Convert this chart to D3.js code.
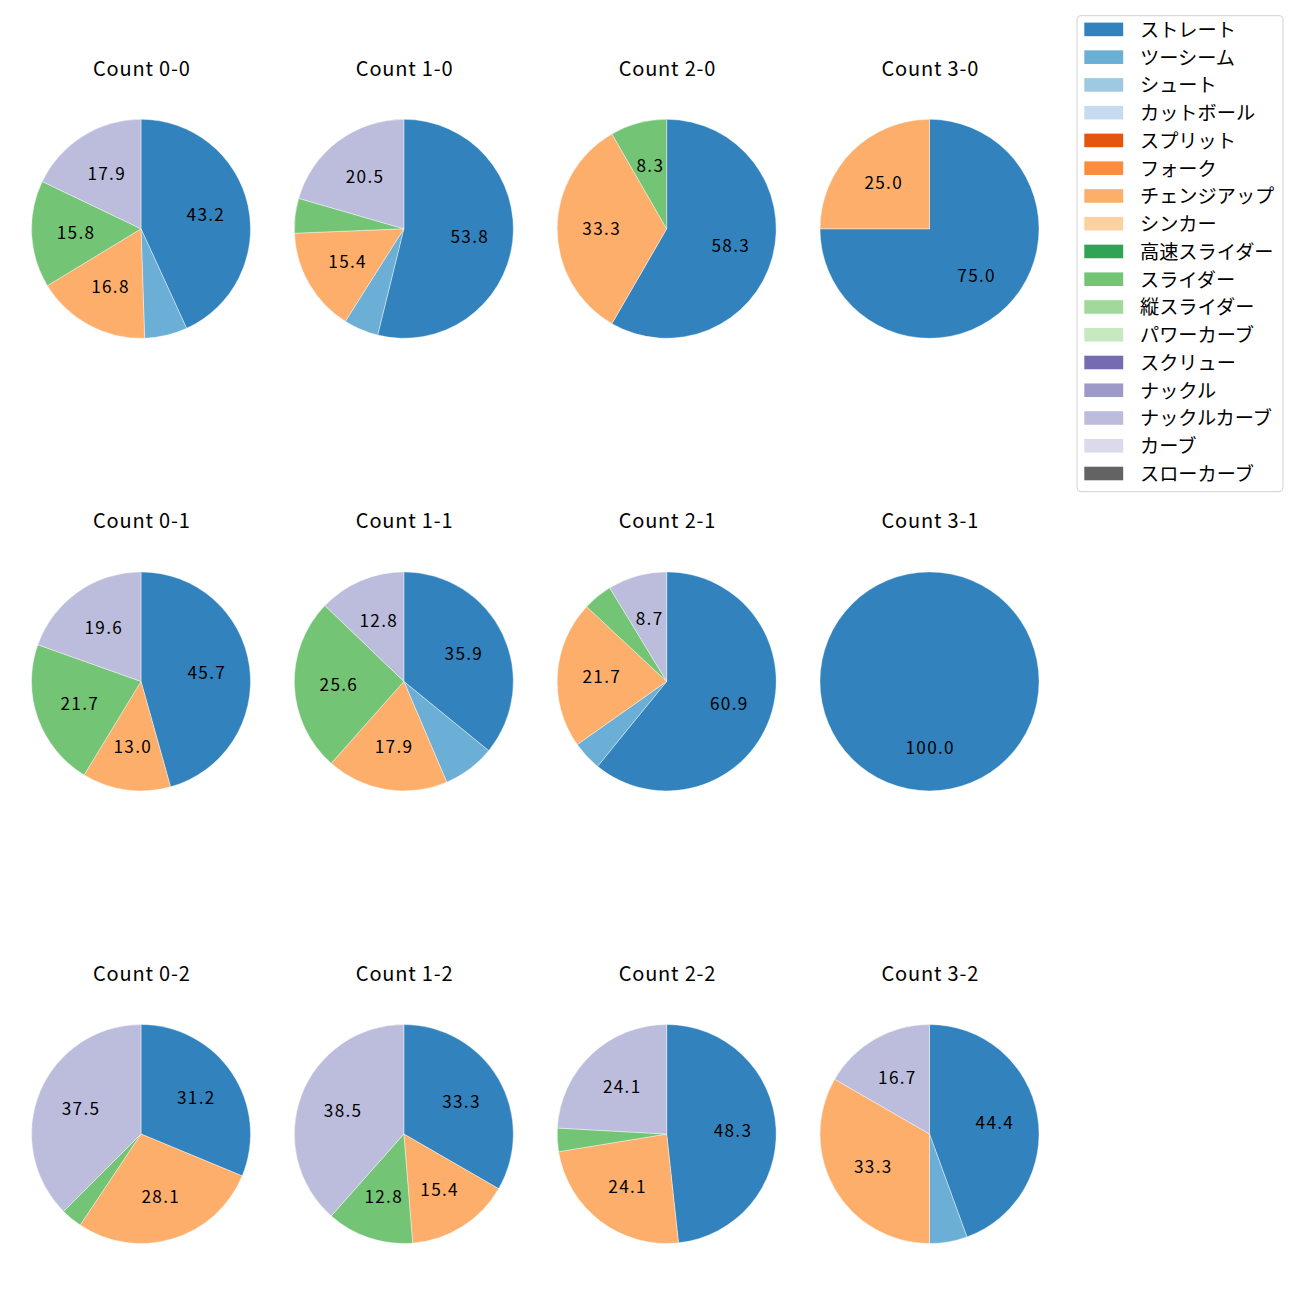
<!DOCTYPE html>
<html>
<head>
<meta charset="utf-8">
<script src="https://cdn.jsdelivr.net/npm/d3@7"></script>
<style>
  html, body { margin: 0; padding: 0; background: #fff; }
  svg { display: block; font-family: "Noto Sans CJK JP", "Noto Sans", sans-serif; }
</style>
</head>
<body>
<svg id="chart" width="1300" height="1300"></svg>
<script>
// ---- data ----
const pitchTypes = ["ストレート","ツーシーム","シュート","カットボール","スプリット","フォーク","チェンジアップ","シンカー","高速スライダー","スライダー","縦スライダー","パワーカーブ","スクリュー","ナックル","ナックルカーブ","カーブ","スローカーブ"];
const pitchColors = ["#3182bd","#6baed6","#9ecae1","#c6dbef","#e6550d","#fd8d3c","#fdae6b","#fdd0a2","#31a354","#74c476","#a1d99b","#c7e9c0","#756bb1","#9e9ac8","#bcbddc","#dadaeb","#636363"];
const countTitles = ["Count 0-0","Count 1-0","Count 2-0","Count 3-0","Count 0-1","Count 1-1","Count 2-1","Count 3-1","Count 0-2","Count 1-2","Count 2-2","Count 3-2"];
// pitch counts per pitch type (same order as pitchTypes)
const count00 = [41,6,0,0,0,0,16,0,0,15,0,0,0,0,17,0,0];
const count10 = [21,2,0,0,0,0,6,0,0,2,0,0,0,0,8,0,0];
const count20 = [7,0,0,0,0,0,4,0,0,1,0,0,0,0,0,0,0];
const count30 = [3,0,0,0,0,0,1,0,0,0,0,0,0,0,0,0,0];
const count01 = [21,0,0,0,0,0,6,0,0,10,0,0,0,0,9,0,0];
const count11 = [14,3,0,0,0,0,7,0,0,10,0,0,0,0,5,0,0];
const count21 = [14,1,0,0,0,0,5,0,0,1,0,0,0,0,2,0,0];
const count31 = [4,0,0,0,0,0,0,0,0,0,0,0,0,0,0,0,0];
const count02 = [10,0,0,0,0,0,9,0,0,1,0,0,0,0,12,0,0];
const count12 = [13,0,0,0,0,0,6,0,0,5,0,0,0,0,15,0,0];
const count22 = [14,0,0,0,0,0,7,0,0,1,0,0,0,0,7,0,0];
const count32 = [8,1,0,0,0,0,6,0,0,0,0,0,0,0,3,0,0];
const countValues = [count00,count10,count20,count30,count01,count11,count21,count31,count02,count12,count22,count32];

// round-half-even formatting to one decimal (like Python's %1.1f)
function fmt1(x) {
  const s = x * 10;
  const f = Math.floor(s);
  let r;
  if (Math.abs(s - f - 0.5) < 1e-9) r = (f % 2 === 0) ? f : f + 1;
  else r = Math.round(s);
  return (r / 10).toFixed(1);
}

// ---- layout ----
const svg = d3.select("#chart");
const color = d3.scaleOrdinal().domain(pitchTypes).range(pitchColors);
const colX = d3.scaleLinear().domain([0, 3]).range([141, 929.5]);
const rowY = d3.scaleLinear().domain([0, 2]).range([228.8, 1134]);
const R = 109.5;
const arc = d3.arc().innerRadius(0).outerRadius(R);
const labelArc = d3.arc().innerRadius(R * 0.6).outerRadius(R * 0.6);
const pie = d3.pie().sort(null).value(d => d.v).startAngle(0).endAngle(2 * Math.PI);

countValues.forEach((vals, i) => {
  const col = i % 4, row = Math.floor(i / 4);
  const cx = colX(col), cy = rowY(row);
  const total = d3.sum(vals);
  const data = pitchTypes.map((p, k) => ({ p, v: vals[k] }));
  const arcs = pie(data).filter(a => a.data.v > 0);
  const g = svg.append("g").attr("transform", `translate(${cx},${cy})`);
  g.selectAll("path").data(arcs).join("path")
    .attr("d", arc)
    .attr("fill", d => color(d.data.p))
    .attr("stroke", "#fff").attr("stroke-width", 0.4);
  g.selectAll("text").data(arcs.filter(a => a.data.v / total * 100 >= 8)).join("text")
    .attr("transform", d => {
      const [x, y] = labelArc.centroid(d);
      return `translate(${x + 0.7},${y - 1})`;
    })
    .attr("text-anchor", "middle")
    .attr("dominant-baseline", "central")
    .attr("font-size", 17.2)
    .attr("letter-spacing", 1.3)
    .attr("fill", "#000")
    .text(d => fmt1(d.data.v / total * 100));
  svg.append("text")
    .attr("x", cx + 0.8).attr("y", cy - 153.3)
    .attr("text-anchor", "middle")
    .attr("font-size", 20)
    .attr("letter-spacing", 0.8)
    .attr("fill", "#000")
    .text(countTitles[i]);
});

// ---- legend ----
const lg = svg.append("g");
lg.append("rect")
  .attr("x", 1077).attr("y", 15.7).attr("width", 206).attr("height", 476)
  .attr("rx", 4).attr("fill", "#fff").attr("stroke", "#d0d0d0").attr("stroke-width", 1);
const legY = d3.scaleLinear().domain([0, pitchTypes.length - 1]).range([29.4, 473.5]);
const items = lg.selectAll("g.item").data(pitchTypes).join("g").attr("class", "item")
  .attr("transform", (d, k) => `translate(0,${legY(k)})`);
items.append("rect")
  .attr("x", 1084.3).attr("y", -6.8).attr("width", 38.9).attr("height", 13.6)
  .attr("fill", d => color(d));
items.append("text")
  .attr("x", 1140).attr("y", -0.5)
  .attr("dominant-baseline", "central")
  .attr("font-size", 19.2)
  .attr("fill", "#000")
  .text(d => d);
</script>
</body>
</html>
